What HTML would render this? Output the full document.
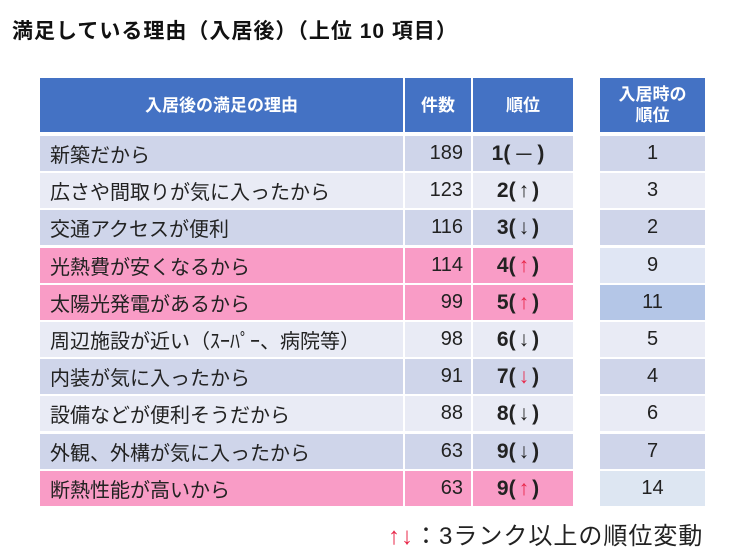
<!DOCTYPE html>
<html><head><meta charset="utf-8">
<style>
body{margin:0;width:742px;height:557px;background:#fff;position:relative;overflow:hidden;font-family:"Liberation Sans","Noto Sans CJK JP",sans-serif;}
.c{position:absolute;box-sizing:border-box;display:flex;align-items:center;font-size:20px;color:#222;}
.h{background:#4472c4;color:#fff;font-weight:bold;justify-content:center;font-size:17px;text-align:center;line-height:21px;}
.r{color:#e8284a;font-weight:normal}
</style></head><body>
<div style="position:absolute;left:12px;top:15px;font-size:21px;font-weight:bold;color:#111;letter-spacing:1px;">満足している理由（入居後）（上位 10 項目）</div>
<div class="c h" style="left:40px;top:78px;width:363px;height:54px;">入居後の満足の理由</div>
<div class="c h" style="left:405px;top:78px;width:66px;height:54px;">件数</div>
<div class="c h" style="left:473px;top:78px;width:100px;height:54px;">順位</div>
<div class="c h" style="left:600px;top:78px;width:105px;height:54px;">入居時の<br>順位</div>
<div id="rows"></div>
<div style="position:absolute;left:388px;top:516px;font-size:24px;color:#222;letter-spacing:1px;"><span style="color:#e8284a">↑↓</span>：3ランク以上の順位変動</div>
<script>
const reasons=["新築だから","広さや間取りが気に入ったから","交通アクセスが便利","光熱費が安くなるから","太陽光発電があるから","周辺施設が近い（ｽｰﾊﾟｰ、病院等）","内装が気に入ったから","設備などが便利そうだから","外観、外構が気に入ったから","断熱性能が高いから"];
const counts=[189,123,116,114,99,98,91,88,63,63];
const ranks=[1,2,3,4,5,6,7,8,9,9];
const arrows=["－","↑","↓","↑","↑","↓","↓","↓","↓","↑"];
const redArrow=[false,false,false,true,true,false,true,false,false,true];
const pink=[false,false,false,true,true,false,false,false,false,true];
const prevRanks=[1,3,2,9,11,5,4,6,7,14];
const t2bg=["#cfd5ea","#e9ebf5","#cfd5ea","#e0e6f4","#b4c6e7","#e9ebf5","#cfd5ea","#e9ebf5","#cfd5ea","#dde6f2"];
const root=document.body;
function cell(x,y,w,h,bg,html,just,extra){
  const d=document.createElement('div');
  d.className='c';
  d.style.cssText=`left:${x}px;top:${y}px;width:${w}px;height:${h}px;background:${bg};justify-content:${just};${extra||''}`;
  d.innerHTML=html;
  root.appendChild(d);return d;
}
reasons.forEach((r,i)=>{
  const y=Math.round(136+i*37.2),h=35;
  const bg=pink[i]?"#f99cc6":(i%2===0?"#cfd5ea":"#e9ebf5");
  let d=cell(40,y,363,h,bg,r,"flex-start","padding-left:10px;");
  
  
  d=cell(405,y,66,h,bg,String(counts[i]),"flex-end","padding-right:8px;");
  
  
  const a=redArrow[i]?`<span class="r" style="margin:0 3px">${arrows[i]}</span>`:`<span style="font-weight:normal;margin:0 3px">${arrows[i]}</span>`;
  d=cell(473,y,100,h,bg,`<b>${ranks[i]}(</b>${a}<b>)</b>`,"center","padding-right:10px;font-size:21px;");
  
  
  d=cell(600,y,105,h,t2bg[i],String(prevRanks[i]),"center");
  
  
});
</script>
</body></html>
